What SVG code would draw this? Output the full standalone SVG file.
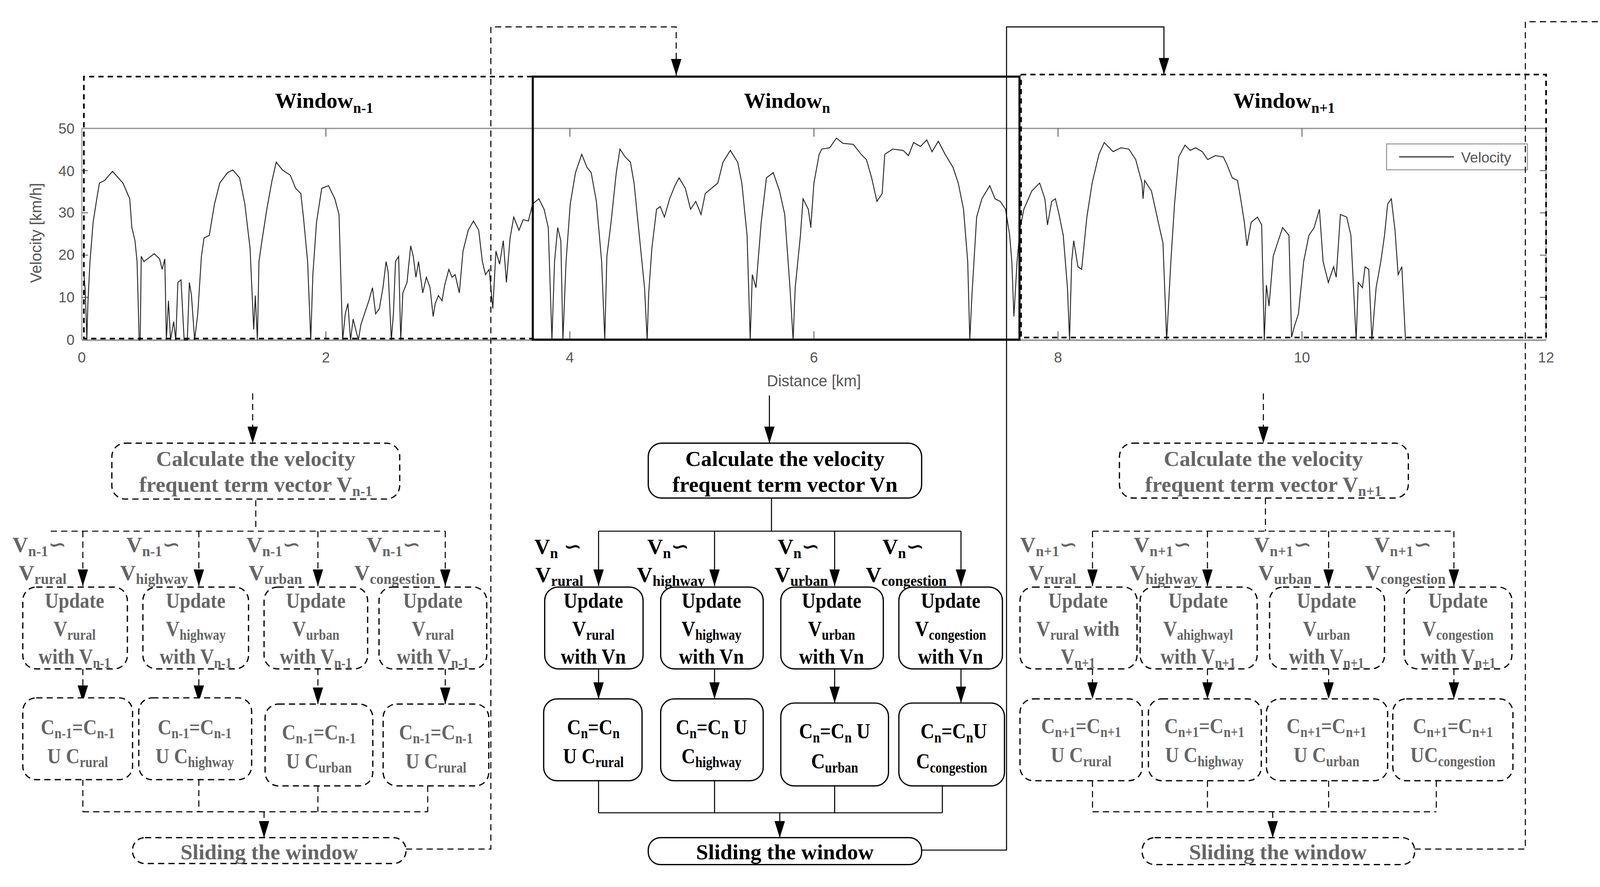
<svg xmlns="http://www.w3.org/2000/svg" width="4157" height="2271" viewBox="0 0 4157 2271">
<style>
.t{font-family:"Liberation Serif",serif;font-weight:bold;font-size:21px;text-anchor:middle}
.q text{transform:scaleX(0.88);transform-box:fill-box;transform-origin:center}
.l{font-family:"Liberation Serif","DejaVu Serif",serif;font-weight:bold;font-size:21px}
.s{font-size:14px}
.g{fill:#666}
.k{fill:#000}
.box{fill:#fff;stroke:#000;stroke-width:1.2}
.dbox{fill:#fff;stroke:#000;stroke-width:1.2;stroke-dasharray:6 4}
.c{fill:none;stroke:#000;stroke-width:1}
.cd{fill:none;stroke:#000;stroke-width:1;stroke-dasharray:6 4}
.ax{font-family:"Liberation Sans",Arial,sans-serif;font-size:14px;fill:#555}
</style>
<defs>
<marker id="ah" viewBox="0 0 16 10" refX="16" refY="5" markerWidth="16" markerHeight="10" markerUnits="userSpaceOnUse" orient="auto"><path d="M0,0 L16,5 L0,10 z" fill="#000"/></marker>
</defs>
<rect width="4157" height="2271" fill="#fff"/>
<g transform="scale(2.651)">
<g id="plot">
<line x1="79" y1="124" x2="1493" y2="124" stroke="#999" stroke-width="1.3"/>
<line x1="79" y1="328.5" x2="1493" y2="328.5" stroke="#999" stroke-width="1.6"/>
<line x1="79" y1="124" x2="79" y2="328" stroke="#999" stroke-width="1"/>
<line x1="1493" y1="124" x2="1493" y2="328" stroke="#999" stroke-width="1"/>
<g stroke="#555" stroke-width="0.8">
<path d="M314.7,124v8M550.3,124v8M786,124v8M1021.7,124v8M1257.3,124v8M314.7,328v-8M550.3,328v-8M786,328v-8M1021.7,328v-8M1257.3,328v-8M79,287.2h6M79,246.4h6M79,205.6h6M79,164.8h6M1493,287.2h-6M1493,246.4h-6M1493,205.6h-6M1493,164.8h-6"/>
</g>
<g class="ax" text-anchor="end">
<text x="72" y="333">0</text><text x="72" y="292">10</text><text x="72" y="251">20</text><text x="72" y="210">30</text><text x="72" y="170">40</text><text x="72" y="129">50</text>
</g>
<g class="ax" text-anchor="middle">
<text x="79" y="350">0</text><text x="314.7" y="350">2</text><text x="550.3" y="350">4</text><text x="786" y="350">6</text><text x="1021.7" y="350">8</text><text x="1257.3" y="350">10</text><text x="1493" y="350">12</text>
<text x="786" y="373" font-size="15">Distance [km]</text>
<text transform="translate(40,225) rotate(-90)" font-size="15">Velocity [km/h]</text>
</g>
<rect x="1339" y="139" width="136" height="25" fill="#fff" stroke="#999" stroke-width="1"/>
<line x1="1351" y1="151.5" x2="1404" y2="151.5" stroke="#444" stroke-width="1.2"/>
<text class="ax" x="1411" y="157" font-size="13">Velocity</text>
<polyline fill="none" stroke="#222" stroke-width="2.3" vector-effect="non-scaling-stroke" transform="matrix(0.5052 0 0 0.2526 0 0)" points="160,1040 163,1110 166,1300 168,1160 172,1000 178,850 185,760 190,700 200,690 215,655 235,700 248,760 252,870 258,920 262,1000 266,1300 268,1300 270,980 275,1000 285,985 295,970 305,990 310,1030 315,990 318,1300 322,1150 326,1300 332,1230 336,1300 340,1080 346,1070 352,1300 358,1300 362,1080 366,1130 372,1300 378,1200 385,980 390,910 400,900 410,780 420,700 435,660 445,650 458,680 468,780 478,950 485,1260 488,1130 492,1300 495,1000 500,930 510,800 520,690 528,620 540,650 555,670 565,720 575,740 580,830 588,1000 594,1300 598,1050 605,850 615,720 628,710 640,760 648,820 655,1300 660,1200 665,1160 670,1300 675,1220 680,1260 685,1300 690,1240 700,1180 705,1150 712,1100 718,1200 725,1180 732,1100 738,1000 742,1040 748,1300 752,1200 756,1000 762,980 766,1300 770,1120 778,1080 785,940 790,980 795,1060 800,1000 808,1120 815,1060 822,1100 828,1210 832,1160 838,1130 845,1150 850,1090 858,1030 864,1060 870,1050 878,1120 885,960 895,880 905,845 915,880 922,1000 928,1050 935,1030 942,1180 948,960 955,1010 962,920 968,1080 975,910 982,830 992,880 1000,840 1010,845 1018,780 1030,760 1040,800 1048,870 1055,1300 1060,1000 1066,870 1072,920 1076,1300 1082,1000 1090,780 1100,660 1112,590 1122,640 1130,660 1140,770 1150,1000 1156,1300 1160,980 1168,850 1178,660 1185,570 1195,600 1205,620 1212,700 1222,900 1232,1100 1237,1300 1240,1120 1246,950 1255,800 1262,790 1270,830 1280,760 1290,710 1298,680 1310,720 1320,800 1330,770 1340,820 1348,740 1360,720 1372,700 1382,620 1396,575 1410,620 1418,700 1428,900 1434,1300 1438,1050 1445,1100 1455,850 1465,680 1478,660 1490,730 1500,820 1510,1100 1516,1300 1520,1100 1530,900 1535,760 1545,800 1550,870"/>
<polyline fill="none" stroke="#222" stroke-width="2.3" vector-effect="non-scaling-stroke" transform="matrix(0.5069 0 0 0.2526 773.3 0)" points="19,870 25,700 35,590 40,570 55,565 68,528 80,548 100,552 115,590 125,610 135,680 145,770 155,740 160,590 175,570 195,575 205,595 215,545 228,560 240,535 250,580 262,540 275,590 290,640 300,700 310,800 318,1000 322,1300 326,1130 335,830 345,760 360,710 370,760 380,770 390,800 398,900 402,1000 406,1210 412,1000 418,870 425,800 440,730 455,700 465,760 470,860 478,770 485,760 492,820 500,900 508,1100 512,1300 516,1000 520,920 528,1020 535,1030 545,830 555,700 568,590 578,545 595,580 610,565 625,570 638,610 650,700 652,760 655,690 668,730 680,840 690,930 697,1300 705,1000 712,780 720,600 732,555 742,575 752,565 765,580 775,610 790,595 805,600 812,630 822,680 832,690 838,760 845,850 850,940 858,850 870,830 878,860 883,1300 887,1090 892,1170 900,980 908,930 918,870 930,900 935,1290 940,1250 948,1200 958,1000 968,900 978,870 988,800 995,1000 1005,1080 1015,1020 1020,1060 1028,820 1040,830 1048,900 1058,1300 1062,1080 1070,1100 1075,1020 1082,1030 1088,1300 1096,1100 1105,1000 1112,900 1118,780 1125,760 1132,880 1138,1050 1145,1020 1152,1300"/>
</g>
<g id="window-n-1">
<path d="M514,74 H81 V327 H514" fill="none" stroke="#000" stroke-width="1.6" stroke-dasharray="5 4"/>
<text class="t k" x="313" y="104">Window<tspan class="s" dy="5">n-1</tspan></text>
</g>
<g id="window-n">
<rect x="514.5" y="74" width="470" height="254" fill="none" stroke="#000" stroke-width="2"/>
<text class="t k" x="760" y="104">Window<tspan class="s" dy="5">n</tspan></text>
</g>
<g id="window-n+1">
<path d="M986,72 H1493 V326 H986 V72" fill="none" stroke="#000" stroke-width="1.6" stroke-dasharray="5 4"/>
<text class="t k" x="1240" y="104">Window<tspan class="s" dy="5">n+1</tspan></text>
</g>

<g id="connectors">
<g class="cd" marker-end="url(#ah)">
<path d="M244,380 V428"/>
<path d="M80,513 V566"/><path d="M192,513 V566"/><path d="M307,513 V566"/><path d="M430,513 V566"/>
<path d="M80,646 V678"/><path d="M192,646 V678"/><path d="M307,646 V680"/><path d="M430,646 V680"/>
<path d="M255,784 V809"/>
<path d="M392,820 H474 V26 H653 V73"/>
<path d="M1220,380 V428"/>
<path d="M1055,513 V566"/><path d="M1166,513 V566"/><path d="M1283,513 V566"/><path d="M1404,513 V566"/>
<path d="M1055,646 V675"/><path d="M1166,646 V675"/><path d="M1283,646 V675"/><path d="M1404,646 V675"/>
<path d="M1229,784 V809"/>
<path d="M1366,820 H1473 V21 H1552 V71"/>
</g>
<g class="cd">
<path d="M247,483 V513 M49,513 H430"/>
<path d="M80,753 V784 M192,753 V784 M307,759 V784 M413,759 V784 M80,784 H413"/>
<path d="M1222,481 V513 M1055,513 H1404"/>
<path d="M1055,754 V784 M1166,754 V784 M1283,754 V784 M1387,754 V784 M1055,784 H1387"/>
</g>
<g class="c" marker-end="url(#ah)">
<path d="M743,382 V428"/>
<path d="M578,513 V566"/><path d="M690,513 V566"/><path d="M806,513 V566"/><path d="M928,513 V566"/>
<path d="M578,646 V675"/><path d="M690,646 V675"/><path d="M806,646 V679"/><path d="M928,646 V679"/>
<path d="M753,785 V809"/>
<path d="M890,821 H972 V26 H1124 V72"/>
</g>
<g class="c">
<path d="M745,481 V513 M578,513 H928"/>
<path d="M578,754 V785 M690,754 V785 M806,759 V785 M910,759 V785 M578,785 H910"/>
</g>
</g>

<!-- left column -->
<g id="calc-n-1"><rect class="dbox" x="108" y="428" width="278" height="54" rx="13"/>
<text class="t g" x="247" y="450">Calculate the velocity</text>
<text class="t g" x="247" y="475">frequent term vector V<tspan class="s" dy="4">n-1</tspan></text></g>
<g id="labels-n-1" class="l g">
<text x="12" y="533">V<tspan class="s" dy="4">n-1</tspan><tspan dy="-4">∽</tspan></text>
<text x="122" y="533">V<tspan class="s" dy="4">n-1</tspan><tspan dy="-4">∽</tspan></text>
<text x="238" y="533">V<tspan class="s" dy="4">n-1</tspan><tspan dy="-4">∽</tspan></text>
<text x="354" y="533">V<tspan class="s" dy="4">n-1</tspan><tspan dy="-4">∽</tspan></text>
<text x="18" y="560">V<tspan class="s" dy="4">rural</tspan></text>
<text x="116" y="560">V<tspan class="s" dy="4">highway</tspan></text>
<text x="240" y="560">V<tspan class="s" dy="4">urban</tspan></text>
<text x="342" y="560">V<tspan class="s" dy="4">congestion</tspan></text>
</g>
<g id="upd-n-1-rural" class="q"><rect class="dbox" x="22" y="567" width="101" height="79" rx="13"/>
<text class="t g" x="72" y="587">Update</text><text class="t g" x="72" y="614">V<tspan class="s" dy="4">rural</tspan></text><text class="t g" x="72" y="641">with V<tspan class="s" dy="4">n-1</tspan></text></g>
<g id="upd-n-1-highway" class="q"><rect class="dbox" x="138" y="567" width="102" height="79" rx="13"/>
<text class="t g" x="189" y="587">Update</text><text class="t g" x="189" y="614">V<tspan class="s" dy="4">highway</tspan></text><text class="t g" x="189" y="641">with V<tspan class="s" dy="4">n-1</tspan></text></g>
<g id="upd-n-1-urban" class="q"><rect class="dbox" x="255" y="567" width="100" height="79" rx="13"/>
<text class="t g" x="305" y="587">Update</text><text class="t g" x="305" y="614">V<tspan class="s" dy="4">urban</tspan></text><text class="t g" x="305" y="641">with V<tspan class="s" dy="4">n-1</tspan></text></g>
<g id="upd-n-1-cong" class="q"><rect class="dbox" x="366" y="567" width="104" height="79" rx="13"/>
<text class="t g" x="418" y="587">Update</text><text class="t g" x="418" y="614">V<tspan class="s" dy="4">rural</tspan></text><text class="t g" x="418" y="641">with V<tspan class="s" dy="4">n-1</tspan></text></g>
<g id="c-n-1-rural" class="q"><rect class="dbox" x="22" y="674" width="106" height="79" rx="13"/>
<text class="t g" x="75" y="709">C<tspan class="s" dy="4">n-1</tspan><tspan dy="-4">=C</tspan><tspan class="s" dy="4">n-1</tspan></text><text class="t g" x="75" y="737">U C<tspan class="s" dy="4">rural</tspan></text></g>
<g id="c-n-1-highway" class="q"><rect class="dbox" x="134" y="674" width="109" height="79" rx="13"/>
<text class="t g" x="188" y="709">C<tspan class="s" dy="4">n-1</tspan><tspan dy="-4">=C</tspan><tspan class="s" dy="4">n-1</tspan></text><text class="t g" x="188" y="737">U C<tspan class="s" dy="4">highway</tspan></text></g>
<g id="c-n-1-urban" class="q"><rect class="dbox" x="256" y="680" width="104" height="79" rx="13"/>
<text class="t g" x="308" y="714">C<tspan class="s" dy="4">n-1</tspan><tspan dy="-4">=C</tspan><tspan class="s" dy="4">n-1</tspan></text><text class="t g" x="308" y="742">U C<tspan class="s" dy="4">urban</tspan></text></g>
<g id="c-n-1-cong" class="q"><rect class="dbox" x="370" y="680" width="102" height="79" rx="13"/>
<text class="t g" x="421" y="714">C<tspan class="s" dy="4">n-1</tspan><tspan dy="-4">=C</tspan><tspan class="s" dy="4">n-1</tspan></text><text class="t g" x="421" y="742">U C<tspan class="s" dy="4">rural</tspan></text></g>
<g id="slide-n-1"><rect class="dbox" x="128" y="809" width="264" height="25" rx="12"/>
<text class="t g" x="260" y="830">Sliding the window</text></g>

<!-- middle column -->
<g id="calc-n"><rect class="box" x="626" y="428" width="264" height="53" rx="13"/>
<text class="t k" x="758" y="450">Calculate the velocity</text>
<text class="t k" x="758" y="475">frequent term vector Vn</text></g>
<g id="labels-n" class="l k">
<text x="516" y="535">V<tspan class="s" dy="4">n</tspan><tspan dy="-4"> ∽</tspan></text>
<text x="625" y="535">V<tspan class="s" dy="4">n</tspan><tspan dy="-4">∽</tspan></text>
<text x="751" y="535">V<tspan class="s" dy="4">n</tspan><tspan dy="-4">∽</tspan></text>
<text x="852" y="535">V<tspan class="s" dy="4">n</tspan><tspan dy="-4">∽</tspan></text>
<text x="517" y="562">V<tspan class="s" dy="4">rural</tspan></text>
<text x="615" y="562">V<tspan class="s" dy="4">highway</tspan></text>
<text x="748" y="562">V<tspan class="s" dy="4">urban</tspan></text>
<text x="836" y="562">V<tspan class="s" dy="4">congestion</tspan></text>
</g>
<g id="upd-n-rural" class="q"><rect class="box" x="526" y="567" width="95" height="79" rx="13"/>
<text class="t k" x="573" y="587">Update</text><text class="t k" x="573" y="614">V<tspan class="s" dy="4">rural</tspan></text><text class="t k" x="573" y="641">with Vn</text></g>
<g id="upd-n-highway" class="q"><rect class="box" x="638" y="567" width="99" height="79" rx="13"/>
<text class="t k" x="687" y="587">Update</text><text class="t k" x="687" y="614">V<tspan class="s" dy="4">highway</tspan></text><text class="t k" x="687" y="641">with Vn</text></g>
<g id="upd-n-urban" class="q"><rect class="box" x="754" y="567" width="99" height="79" rx="13"/>
<text class="t k" x="803" y="587">Update</text><text class="t k" x="803" y="614">V<tspan class="s" dy="4">urban</tspan></text><text class="t k" x="803" y="641">with Vn</text></g>
<g id="upd-n-cong" class="q"><rect class="box" x="868" y="567" width="100" height="79" rx="13"/>
<text class="t k" x="918" y="587">Update</text><text class="t k" x="918" y="614">V<tspan class="s" dy="4">congestion</tspan></text><text class="t k" x="918" y="641">with Vn</text></g>
<g id="c-n-rural" class="q"><rect class="box" x="525" y="675" width="95" height="79" rx="13"/>
<text class="t k" x="573" y="709">C<tspan class="s" dy="4">n</tspan><tspan dy="-4">=C</tspan><tspan class="s" dy="4">n</tspan></text><text class="t k" x="573" y="737">U C<tspan class="s" dy="4">rural</tspan></text></g>
<g id="c-n-highway" class="q"><rect class="box" x="638" y="675" width="99" height="79" rx="13"/>
<text class="t k" x="687" y="709">C<tspan class="s" dy="4">n</tspan><tspan dy="-4">=C</tspan><tspan class="s" dy="4">n</tspan><tspan dy="-4"> U</tspan></text><text class="t k" x="687" y="737">C<tspan class="s" dy="4">highway</tspan></text></g>
<g id="c-n-urban" class="q"><rect class="box" x="754" y="679" width="104" height="80" rx="13"/>
<text class="t k" x="806" y="713">C<tspan class="s" dy="4">n</tspan><tspan dy="-4">=C</tspan><tspan class="s" dy="4">n</tspan><tspan dy="-4"> U</tspan></text><text class="t k" x="806" y="742">C<tspan class="s" dy="4">urban</tspan></text></g>
<g id="c-n-cong" class="q"><rect class="box" x="868" y="679" width="102" height="80" rx="13"/>
<text class="t k" x="921" y="713">C<tspan class="s" dy="4">n</tspan><tspan dy="-4">=C</tspan><tspan class="s" dy="4">n</tspan><tspan dy="-4">U</tspan></text><text class="t k" x="919" y="742">C<tspan class="s" dy="4">congestion</tspan></text></g>
<g id="slide-n"><rect class="box" x="626" y="809" width="264" height="26" rx="12"/>
<text class="t k" x="758" y="830">Sliding the window</text></g>

<!-- right column -->
<g id="calc-n+1"><rect class="dbox" x="1081" y="428" width="279" height="53" rx="13"/>
<text class="t g" x="1220" y="450">Calculate the velocity</text>
<text class="t g" x="1220" y="475">frequent term vector V<tspan class="s" dy="4">n+1</tspan></text></g>
<g id="labels-n+1" class="l g">
<text x="985" y="533">V<tspan class="s" dy="4">n+1</tspan><tspan dy="-4">∽</tspan></text>
<text x="1095" y="533">V<tspan class="s" dy="4">n+1</tspan><tspan dy="-4">∽</tspan></text>
<text x="1211" y="533">V<tspan class="s" dy="4">n+1</tspan><tspan dy="-4">∽</tspan></text>
<text x="1327" y="533">V<tspan class="s" dy="4">n+1</tspan><tspan dy="-4">∽</tspan></text>
<text x="993" y="560">V<tspan class="s" dy="4">rural</tspan></text>
<text x="1091" y="560">V<tspan class="s" dy="4">highway</tspan></text>
<text x="1215" y="560">V<tspan class="s" dy="4">urban</tspan></text>
<text x="1318" y="560">V<tspan class="s" dy="4">congestion</tspan></text>
</g>
<g id="upd-n+1-rural" class="q"><rect class="dbox" x="985" y="567" width="113" height="79" rx="13"/>
<text class="t g" x="1041" y="587">Update</text><text class="t g" x="1041" y="614">V<tspan class="s" dy="4">rural</tspan><tspan dy="-4"> with</tspan></text><text class="t g" x="1041" y="641">V<tspan class="s" dy="4">n+1</tspan></text></g>
<g id="upd-n+1-highway" class="q"><rect class="dbox" x="1101" y="567" width="113" height="79" rx="13"/>
<text class="t g" x="1157" y="587">Update</text><text class="t g" x="1157" y="614">V<tspan class="s" dy="4">ahighwayl</tspan></text><text class="t g" x="1157" y="641">with V<tspan class="s" dy="4">n+1</tspan></text></g>
<g id="upd-n+1-urban" class="q"><rect class="dbox" x="1226" y="567" width="111" height="79" rx="13"/>
<text class="t g" x="1281" y="587">Update</text><text class="t g" x="1281" y="614">V<tspan class="s" dy="4">urban</tspan></text><text class="t g" x="1281" y="641">with V<tspan class="s" dy="4">n+1</tspan></text></g>
<g id="upd-n+1-cong" class="q"><rect class="dbox" x="1356" y="567" width="104" height="79" rx="13"/>
<text class="t g" x="1408" y="587">Update</text><text class="t g" x="1408" y="614">V<tspan class="s" dy="4">congestion</tspan></text><text class="t g" x="1408" y="641">with V<tspan class="s" dy="4">n+1</tspan></text></g>
<g id="c-n+1-rural" class="q"><rect class="dbox" x="985" y="675" width="118" height="79" rx="13"/>
<text class="t g" x="1044" y="708">C<tspan class="s" dy="4">n+1</tspan><tspan dy="-4">=C</tspan><tspan class="s" dy="4">n+1</tspan></text><text class="t g" x="1044" y="736">U C<tspan class="s" dy="4">rural</tspan></text></g>
<g id="c-n+1-highway" class="q"><rect class="dbox" x="1109" y="675" width="109" height="79" rx="13"/>
<text class="t g" x="1163" y="708">C<tspan class="s" dy="4">n+1</tspan><tspan dy="-4">=C</tspan><tspan class="s" dy="4">n+1</tspan></text><text class="t g" x="1163" y="736">U C<tspan class="s" dy="4">highway</tspan></text></g>
<g id="c-n+1-urban" class="q"><rect class="dbox" x="1223" y="675" width="117" height="79" rx="13"/>
<text class="t g" x="1281" y="708">C<tspan class="s" dy="4">n+1</tspan><tspan dy="-4">=C</tspan><tspan class="s" dy="4">n+1</tspan></text><text class="t g" x="1281" y="736">U C<tspan class="s" dy="4">urban</tspan></text></g>
<g id="c-n+1-cong" class="q"><rect class="dbox" x="1345" y="675" width="116" height="79" rx="13"/>
<text class="t g" x="1403" y="708">C<tspan class="s" dy="4">n+1</tspan><tspan dy="-4">=C</tspan><tspan class="s" dy="4">n+1</tspan></text><text class="t g" x="1403" y="736">UC<tspan class="s" dy="4">congestion</tspan></text></g>
<g id="slide-n+1"><rect class="dbox" x="1103" y="809" width="263" height="26" rx="12"/>
<text class="t g" x="1234" y="830">Sliding the window</text></g>
</g>
</svg>
